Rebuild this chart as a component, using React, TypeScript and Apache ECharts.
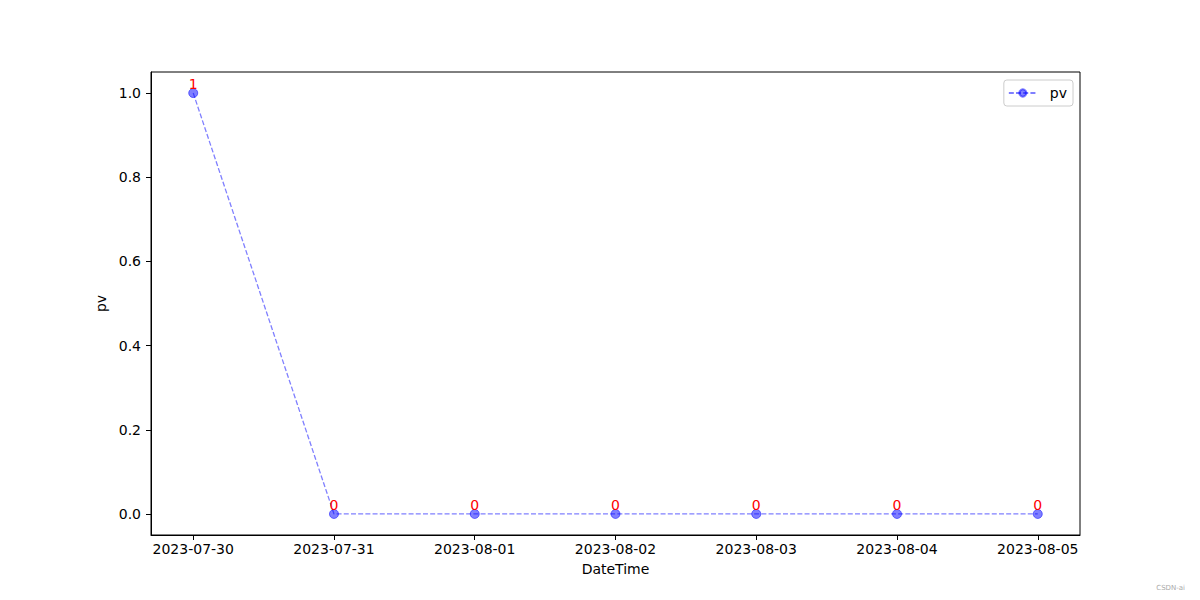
import React, { useEffect, useRef } from "react";
import * as echarts from "echarts";

const dates = ["2023-07-30", "2023-07-31", "2023-08-01", "2023-08-02", "2023-08-03", "2023-08-04", "2023-08-05"];
const pvValues = [1, 0, 0, 0, 0, 0, 0];
const yTicks = [0, 0.2, 0.4, 0.6, 0.8, 1.0];

export default function App() {
  const ref = useRef<HTMLDivElement>(null);
  useEffect(() => {
    if (!ref.current) return;
    const chart = echarts.init(ref.current, null, { renderer: "svg" });
    const font = "DejaVu Sans";
    const xIdx = dates.map((_, i) => i);
    chart.setOption({
      animation: false,
      backgroundColor: "#fff",
      textStyle: { fontFamily: font },
      grid: {
        left: 151,
        top: 72,
        right: 120,
        bottom: 65,
        show: true,
        borderColor: "#000",
        borderWidth: 1,
        backgroundColor: "transparent",
      },
      legend: {
        right: 127,
        top: 80,
        data: ["pv"],
        itemWidth: 28,
        itemHeight: 9,
        padding: [6, 6, 6, 4],
        borderColor: "#cccccc",
        borderWidth: 1,
        borderRadius: 3,
        textStyle: { fontFamily: font, fontSize: 14, color: "#000", padding: [0, 0, 0, 8] },
      },
      xAxis: {
        type: "value",
        min: -0.3,
        max: 6.3,
        name: "DateTime",
        nameLocation: "middle",
        nameGap: 27,
        nameTextStyle: { fontFamily: font, fontSize: 14, color: "#000" },
        splitLine: { show: false },
        axisLine: { show: true, onZero: false, lineStyle: { color: "#000" } },
        axisTick: { show: true, length: 5, customValues: xIdx, lineStyle: { color: "#000" } },
        axisLabel: {
          customValues: xIdx,
          margin: 7,
          fontFamily: font,
          fontSize: 14,
          color: "#000",
          formatter: (v: number) => dates[Math.round(v)] ?? "",
        },
      },
      yAxis: {
        type: "value",
        min: -0.05,
        max: 1.05,
        name: "pv",
        nameLocation: "middle",
        nameGap: 36,
        nameTextStyle: { fontFamily: font, fontSize: 14, color: "#000" },
        splitLine: { show: false },
        axisLine: { show: true, onZero: false, lineStyle: { color: "#000" } },
        axisTick: { show: true, length: 5, customValues: yTicks, lineStyle: { color: "#000" } },
        axisLabel: {
          customValues: yTicks,
          margin: 10,
          fontFamily: font,
          fontSize: 14,
          color: "#000",
          formatter: (v: number) => v.toFixed(1),
        },
      },
      series: [
        {
          name: "pv",
          type: "line",
          data: pvValues.map((v, i) => [i, v]),
          symbol: "circle",
          symbolSize: 9,
          itemStyle: { color: "rgba(0,0,255,0.5)", borderColor: "rgba(0,0,255,0.5)", borderWidth: 1 },
          lineStyle: { color: "rgba(0,0,255,0.5)", width: 1.3, type: [5, 2.2] },
          label: {
            show: true,
            position: "top",
            distance: -3,
            color: "red",
            fontFamily: font,
            fontSize: 14,
            formatter: (p: any) => String(p.value[1]),
          },
        },
      ],
      graphic: [
        {
          type: "text",
          right: 15,
          top: 584,
          style: { text: "CSDN-ai", fill: "#aaa", font: "7px DejaVu Sans" },
        },
      ],
    });
    return () => chart.dispose();
  }, []);
  return <div ref={ref} style={{ position: "fixed", left: 0, top: 0, width: 1200, height: 600 }} />;
}
